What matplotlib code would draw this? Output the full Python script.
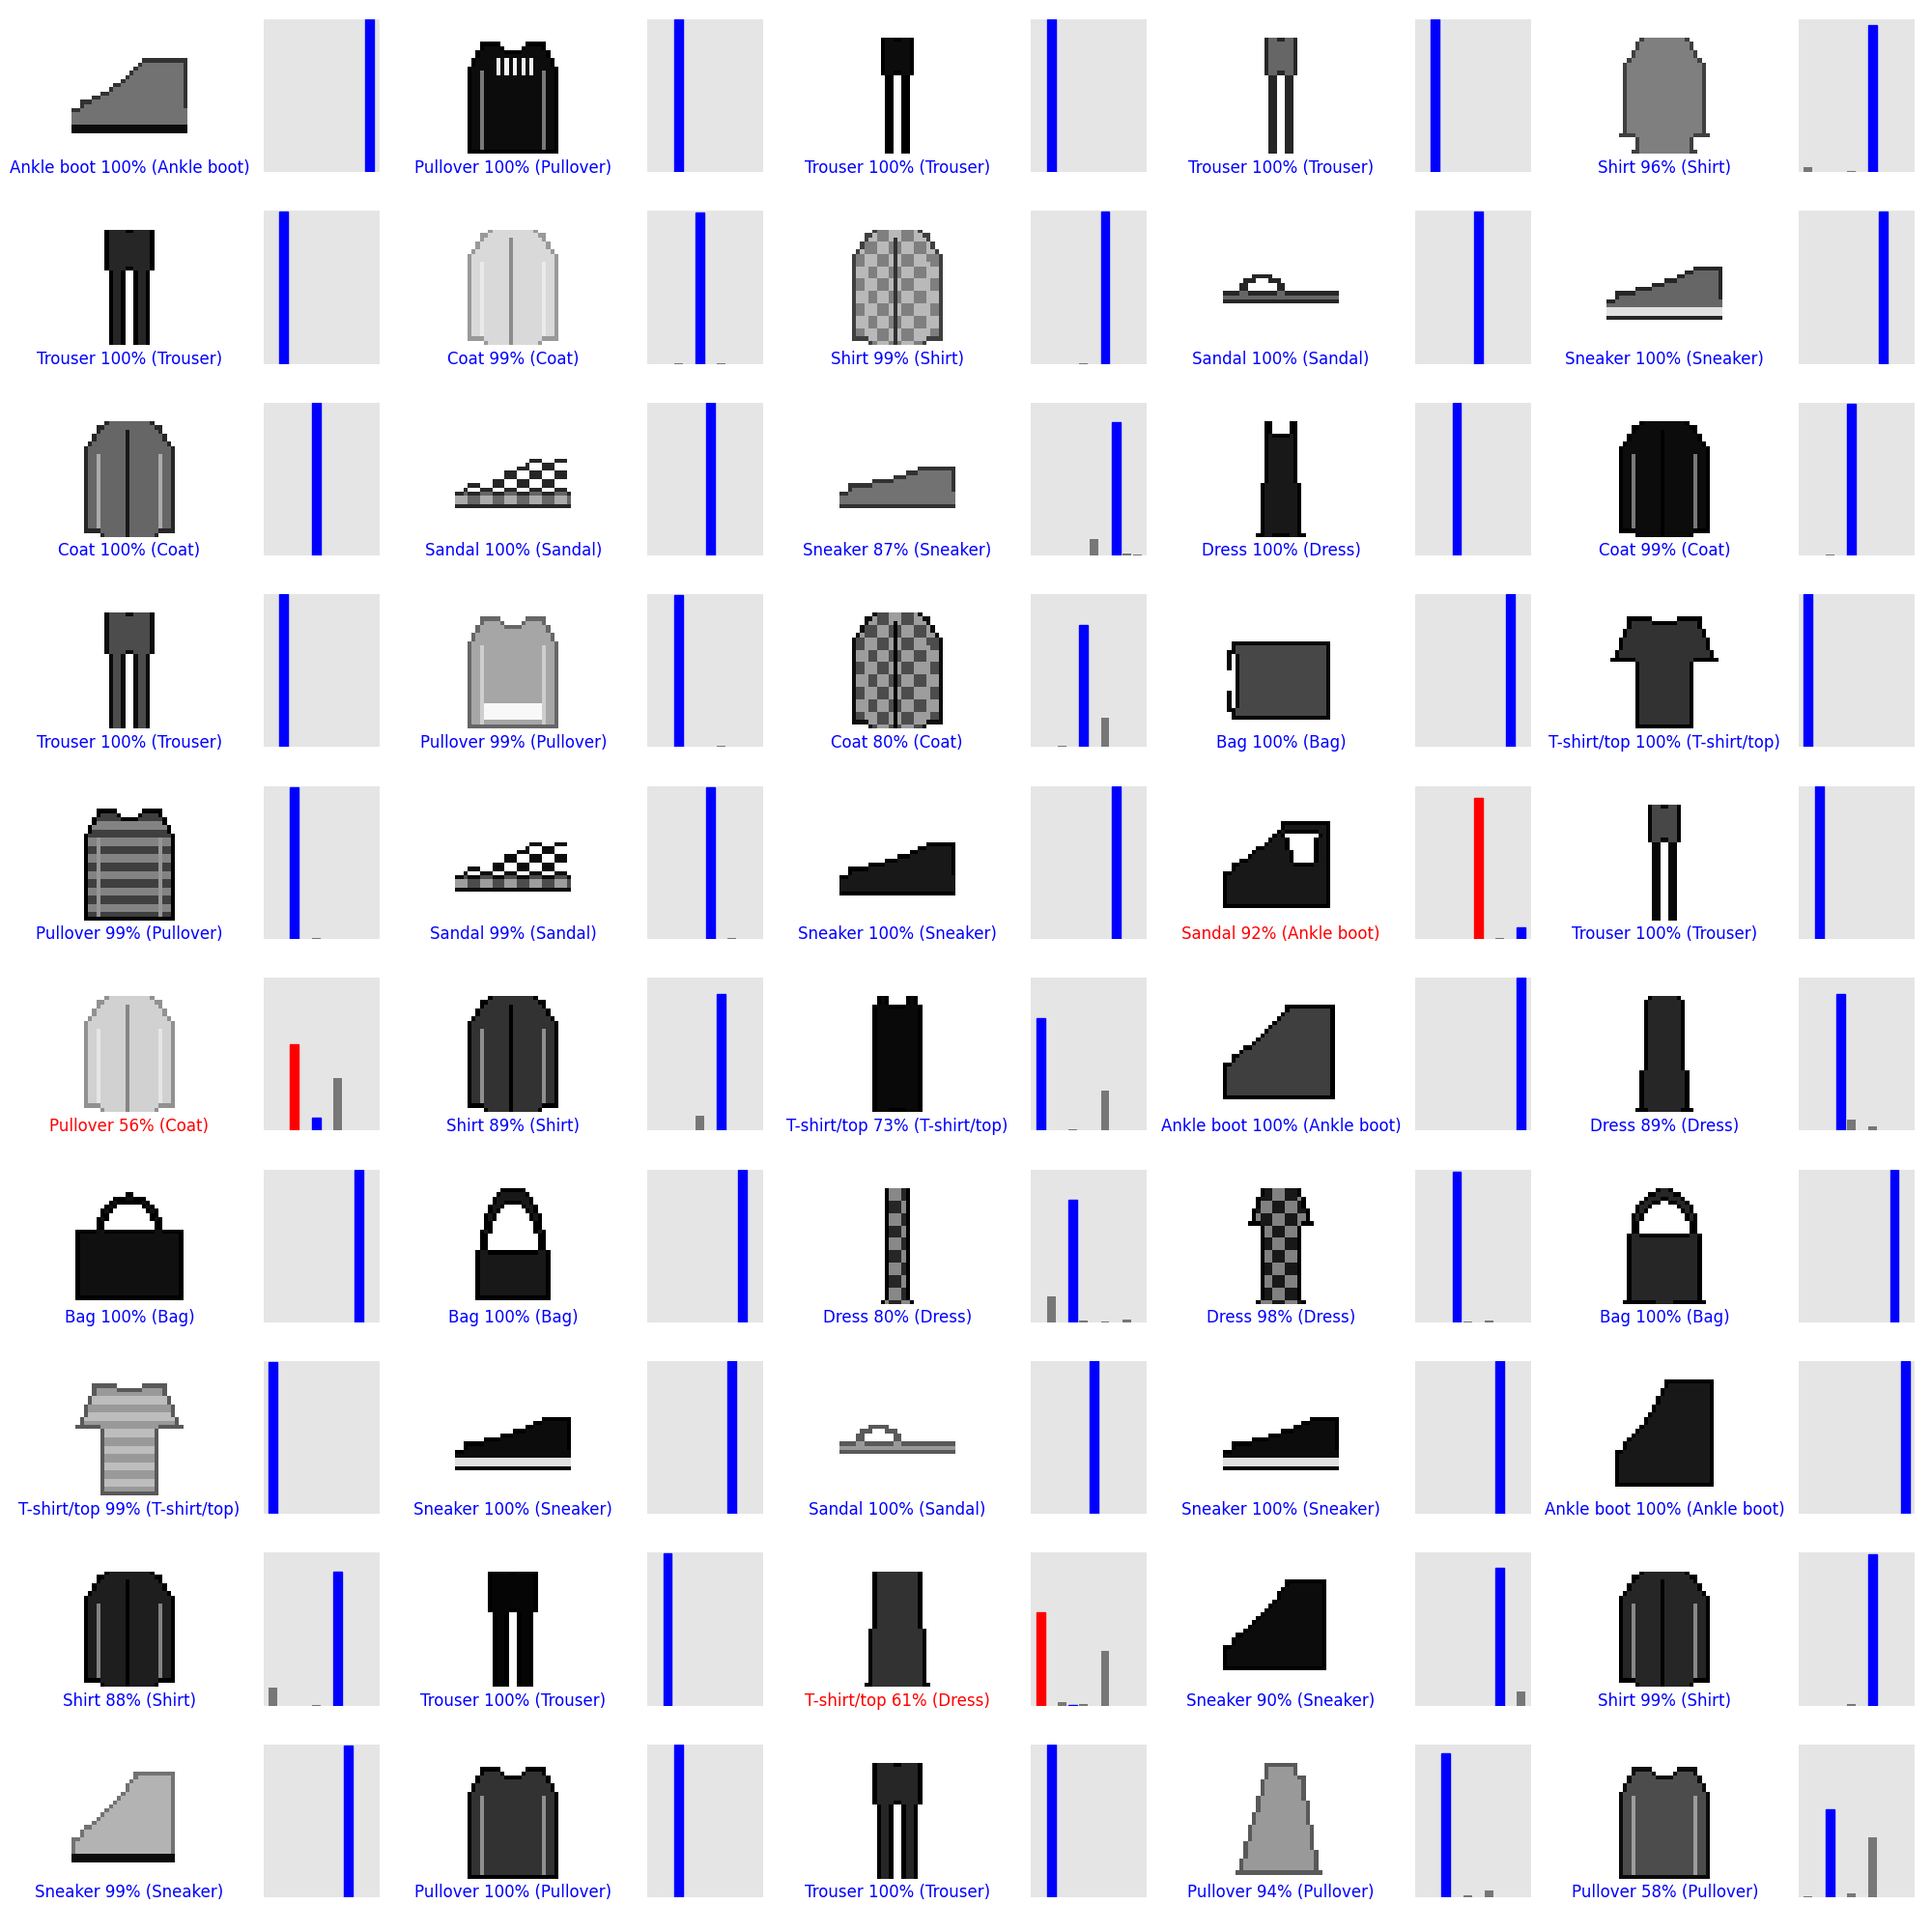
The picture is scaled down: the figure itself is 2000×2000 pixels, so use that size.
import numpy as np
import matplotlib
matplotlib.use("Agg")
import matplotlib.pyplot as plt

class_names = ['T-shirt/top', 'Trouser', 'Pullover', 'Dress', 'Coat',
               'Sandal', 'Shirt', 'Sneaker', 'Bag', 'Ankle boot']

true_labels = [9, 2, 1, 1, 6, 1, 4, 6, 5, 7,
               4, 5, 7, 3, 4, 1, 2, 4, 8, 0,
               2, 5, 7, 9, 1, 4, 6, 0, 9, 3,
               8, 8, 3, 3, 8, 0, 7, 5, 7, 9,
               6, 1, 3, 7, 6, 7, 2, 1, 2, 2]

# predicted probabilities per test item (class index -> probability; others ~0)
predictions = [
    {9: 0.999}, {2: 0.999}, {1: 0.999}, {1: 0.999}, {0: 0.035, 4: 0.005, 6: 0.96},
    {1: 0.999}, {4: 0.993, 2: 0.004, 6: 0.003}, {4: 0.006, 6: 0.994}, {5: 0.999}, {7: 0.999},
    {4: 0.999}, {5: 0.999}, {5: 0.105, 7: 0.872, 8: 0.012, 9: 0.008}, {3: 0.999}, {2: 0.007, 4: 0.993},
    {1: 0.999}, {2: 0.993, 6: 0.007}, {0: 0.003, 2: 0.006, 4: 0.799, 6: 0.19}, {8: 0.999}, {0: 0.999},
    {2: 0.993, 4: 0.007}, {5: 0.993, 7: 0.007}, {7: 0.999}, {5: 0.923, 7: 0.003, 9: 0.074}, {1: 0.999},
    {0: 0.004, 2: 0.563, 4: 0.085, 6: 0.345}, {2: 0.004, 4: 0.098, 6: 0.893}, {0: 0.734, 3: 0.006, 6: 0.258}, {9: 0.999}, {3: 0.892, 4: 0.074, 6: 0.03},
    {8: 0.999}, {8: 0.999}, {1: 0.17, 3: 0.80, 4: 0.008, 6: 0.007, 8: 0.015}, {3: 0.984, 4: 0.004, 6: 0.012}, {8: 0.999},
    {0: 0.993, 6: 0.004}, {7: 0.999}, {5: 0.999}, {7: 0.999}, {9: 0.999},
    {0: 0.118, 4: 0.005, 6: 0.877}, {1: 0.999}, {0: 0.61, 2: 0.02, 3: 0.005, 4: 0.01, 6: 0.355}, {7: 0.903, 9: 0.093}, {4: 0.008, 6: 0.992},
    {7: 0.993, 9: 0.002}, {2: 0.999}, {1: 0.999}, {2: 0.94, 4: 0.01, 6: 0.045}, {0: 0.004, 2: 0.578, 4: 0.025, 6: 0.39},
]

# rough silhouettes standing in for the 28x28 test images
item_shapes = [
    'boot_low', 'pullover', 'trouser_slim', 'trouser_slim', 'shirt_long',
    'trouser', 'coat', 'shirt', 'flipflop', 'sneaker',
    'coat', 'sandal', 'sneaker_flat', 'slip_dress', 'coat',
    'trouser', 'pullover', 'coat', 'bag_box', 'tshirt',
    'pullover', 'sandal', 'sneaker', 'heel', 'trouser_slim',
    'coat', 'shirt', 'tank', 'boot', 'dress_long',
    'bag_handle', 'bag_small', 'dress_narrow', 'dress_print', 'bag_hobo',
    'tshirt', 'sneaker', 'flipflop', 'sneaker', 'boot_tall',
    'shirt', 'trouser', 'skirt', 'hightop', 'shirt',
    'hightop', 'pullover', 'trouser', 'pullover_side', 'pullover',
]
item_tones = [
    0.55, 0.95, 0.95, 0.6, 0.5,
    0.85, 0.15, 0.5, 0.6, 0.6,
    0.6, 0.6, 0.55, 0.9, 0.95,
    0.7, 0.35, 0.7, 0.72, 0.8,
    0.75, 0.7, 0.9, 0.9, 0.72,
    0.18, 0.8, 0.96, 0.75, 0.85,
    0.93, 0.9, 0.85, 0.9, 0.85,
    0.4, 0.95, 0.4, 0.95, 0.9,
    0.88, 0.98, 0.8, 0.95, 0.85,
    0.3, 0.8, 0.85, 0.4, 0.7,
]
item_patterns = [
    'darksole', 'lee', 'plain', 'plain', 'plain',
    'plain', 'plain', 'check', 'plain', 'whitesole',
    'plain', 'check', 'plain', 'plain', 'plain',
    'plain', 'hem', 'check', 'plain', 'plain',
    'stripe', 'check', 'plain', 'plain', 'plain',
    'plain', 'plain', 'plain', 'plain', 'plain',
    'plain', 'plain', 'check', 'check', 'plain',
    'stripe', 'whitesole', 'plain', 'whitesole', 'plain',
    'plain', 'plain', 'plain', 'plain', 'plain',
    'darksole', 'plain', 'plain', 'plain', 'plain',
]

R, C = np.mgrid[0:28, 0:28].astype(float)


def band(r0, r1, la, ra, lb, rb):
    t = np.clip((R - r0) / max(r1 - r0, 1), 0, 1)
    return (R >= r0) & (R <= r1) & (C >= la + (lb - la) * t) & (C <= ra + (rb - ra) * t)


def ellipse(cy, cx, ry, rx):
    return ((R - cy) / ry) ** 2 + ((C - cx) / rx) ** 2 <= 1


def ring(cy, cx, ry, rx, w=0.3):
    d = ((R - cy) / ry) ** 2 + ((C - cx) / rx) ** 2
    return (d >= 1 - w) & (d <= 1 + w)


def profile(c0, c1, r_toe, c_heel, r_top, r_bot):
    x = np.clip((C - c0) / max(c_heel - c0, 1), 0, 1)
    top = np.where(C < c_heel, r_toe + (r_top - r_toe) * x ** 1.6, r_top)
    m = (R >= top) & (R <= r_bot) & (C >= c0) & (C <= c1)
    # rounded toe
    return m & ~((C <= c0 + 1) & (R <= r_toe + 1))


def shape_mask(kind):
    if kind == 'trouser':
        return (band(0, 9, 8, 19, 8, 19) | band(9, 27, 8, 12.4, 9, 12.4)
                | band(9, 27, 14.6, 19, 14.6, 18))
    if kind == 'trouser_slim':
        return (band(0, 8, 10, 17, 10, 17) | band(8, 27, 10, 12.4, 10.5, 12.4)
                | band(8, 27, 14.6, 17, 14.6, 16.5))
    if kind == 'pullover':
        m = band(1, 27, 7, 20, 7, 20) | band(1, 7, 6, 21, 3, 24) | band(7, 27, 3, 24, 3, 24)
        return m & ~ellipse(0, 13.5, 2.5, 3.5)
    if kind == 'pullover_side':
        return band(0, 26, 10, 17, 3, 20) | band(3, 26, 17, 19, 20, 23)
    if kind in ('coat', 'shirt'):
        return band(0, 27, 8, 19, 7, 20) | band(1, 6, 6, 21, 3, 24) | band(6, 26, 3, 24, 3, 24)
    if kind == 'shirt_long':
        return band(0, 27, 8, 19, 6, 21) | band(1, 6, 7, 20, 4, 23) | band(6, 23, 4, 23, 3, 24)
    if kind == 'tshirt':
        m = band(1, 27, 7, 20, 7, 20) | band(1, 11, 5, 22, 1, 26)
        return m & ~ellipse(0, 13.5, 2, 3)
    if kind == 'tank':
        return band(2, 27, 8, 19, 8, 19) | band(0, 2, 9, 11, 9, 11) | band(0, 2, 16, 18, 16, 18)
    if kind == 'slip_dress':
        return band(3, 27, 10, 17, 8, 19) | band(0, 3, 10, 11, 10, 11) | band(0, 3, 16, 17, 16, 17)
    if kind == 'dress_long':
        return band(0, 27, 10, 17, 7, 20) | band(1, 20, 9, 18, 8, 19)
    if kind == 'dress_narrow':
        return band(0, 27, 11, 16, 10, 17)
    if kind == 'dress_print':
        return band(0, 27, 9, 18, 8, 19) | band(2, 8, 8, 19, 6, 21)
    if kind == 'skirt':
        return band(0, 27, 8, 19, 6, 21)
    if kind == 'sneaker':
        return profile(0, 27, 15, 21, 9, 21)
    if kind == 'sneaker_flat':
        return profile(0, 27, 15, 19, 11, 20)
    if kind == 'hightop':
        return profile(0, 24, 16, 15, 2, 23)
    if kind == 'boot_low':
        return profile(0, 27, 15, 17, 5, 22)
    if kind == 'boot':
        return profile(0, 26, 14, 15, 2, 24)
    if kind == 'boot_tall':
        return profile(2, 25, 15, 14, 0, 25)
    if kind == 'heel':
        return profile(0, 25, 14, 14, 4, 24) & ~band(7, 13, 15, 22, 17, 21)
    if kind == 'sandal':
        upper = profile(0, 26, 15, 18, 9, 17) & ((((R // 2) + (C // 3)) % 2) == 0)
        return band(17, 20, 0, 27, 0, 27) | upper
    if kind == 'flipflop':
        return band(15, 17, 0, 27, 0, 27) | (ring(15, 9, 4, 5) & (R <= 15))
    if kind == 'bag_box':
        return band(7, 25, 3, 25, 3, 25) | (ring(16, 3, 9, 2.5) & (C < 3))
    if kind == 'bag_handle':
        return band(10, 26, 1, 26, 1, 26) | (ring(10, 13.5, 8, 7) & (R <= 10))
    if kind == 'bag_small':
        return band(15, 26, 5, 22, 5, 22) | (ring(15, 13.5, 14, 7) & (R <= 15))
    if kind == 'bag_hobo':
        return band(11, 27, 5, 22, 4, 23) | (ring(12, 13.5, 11, 7.5) & (R <= 12))
    return np.zeros((28, 28), bool)


def make_image(kind, tone, pattern):
    m = shape_mask(kind)
    img = np.where(m, tone, 0.0)
    if pattern == 'check':
        img = np.where(m, tone * (0.55 + 0.45 * (((R // 3) + (C // 3)) % 2)), 0.0)
    elif pattern == 'stripe':
        img = np.where(m, tone * (0.65 + 0.35 * ((R // 2) % 2)), 0.0)
    # sleeve seams and front openings
    if kind in ('pullover', 'coat', 'shirt'):
        seam = m & (R >= 8) & ((C == 6) | (C == 21))
        img[seam] = tone * 0.55
    if kind in ('coat', 'shirt'):
        front = m & (R >= 2) & (C == 13)
        img[front] = min(1.0, tone + 0.3)
    rows = np.where(m.any(axis=1))[0]
    bottom = rows.max() if len(rows) else 27
    if pattern == 'whitesole':
        img[m & (R >= bottom - 2)] = 0.12
    elif pattern == 'darksole':
        img[m & (R >= bottom - 1)] = 0.95
    elif pattern == 'lee':
        img[band(5, 8, 9, 18, 9, 18) & ((C % 2) == 0)] = 0.05
    elif pattern == 'hem':
        img[m & (R >= 22) & (R <= 25) & (C > 6) & (C < 21)] = 0.03
    inner = m & np.roll(m, 1, 0) & np.roll(m, -1, 0) & np.roll(m, 1, 1) & np.roll(m, -1, 1)
    edge = m & ~inner
    img[edge] = np.maximum(img[edge], min(1.0, tone + 0.25))
    return img


probs = np.zeros((len(true_labels), 10))
for i, d in enumerate(predictions):
    for k, v in d.items():
        probs[i, k] = v

num_rows, num_cols = 10, 5
fig = plt.figure(figsize=(20, 20), dpi=100)
fig.subplots_adjust(left=0.037, right=0.991, top=0.99, bottom=0.018,
                    wspace=0.656, hspace=0.255)

for i in range(num_rows * num_cols):
    p = probs[i]
    t = true_labels[i]
    pred = int(np.argmax(p))
    color = 'blue' if pred == t else 'red'

    ax = fig.add_subplot(num_rows, 2 * num_cols, 2 * i + 1)
    ax.imshow(make_image(item_shapes[i], item_tones[i], item_patterns[i]),
              cmap=plt.cm.binary, vmin=0, vmax=1)
    ax.set_xticks([])
    ax.set_yticks([])
    for s in ax.spines.values():
        s.set_visible(False)
    ax.set_xlabel("{} {:2.0f}% ({})".format(class_names[pred], 100 * np.max(p), class_names[t]),
                  color=color, fontsize=12)

    ax2 = fig.add_subplot(num_rows, 2 * num_cols, 2 * i + 2)
    ax2.set_facecolor('#E5E5E5')
    bars = ax2.bar(range(10), p, color='#777777')
    bars[pred].set_color('red')
    bars[t].set_color('blue')
    ax2.set_ylim(0, 1)
    ax2.set_xticks([])
    ax2.set_yticks([])
    for s in ax2.spines.values():
        s.set_visible(False)

fig.savefig('out.png', dpi=100)
